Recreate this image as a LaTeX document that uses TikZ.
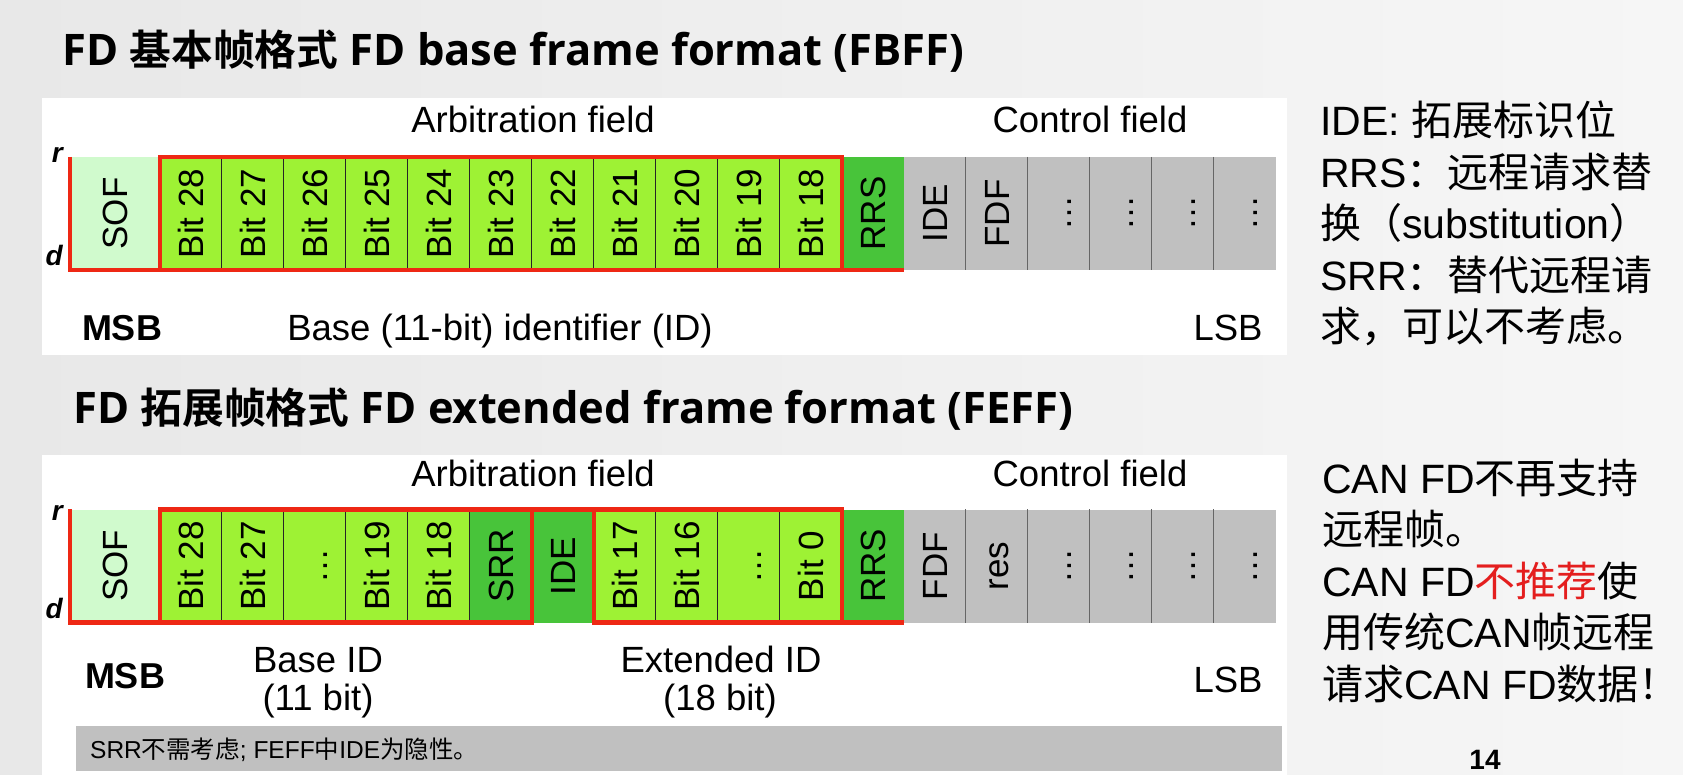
\documentclass[tikz,border=0pt]{standalone}
\usepackage{fontspec}
\setmainfont{Liberation Sans}
\newfontfamily\cjk{Noto Sans CJK SC}[BoldFont={Noto Sans CJK SC Bold}]
\newfontfamily\cjkhead{Noto Sans CJK SC}[Scale=0.96,BoldFont={Noto Sans CJK SC Bold}]
\newfontfamily\headfont{Open Sans}
\newcommand{\zhtext}[1]{{\cjk #1}}
\newcommand{\zhhead}[1]{{\cjkhead #1}}
\usepackage{xcolor}
\usepackage{tikz}
\definecolor{bgleft}{RGB}{232,232,232}
\definecolor{bgright}{RGB}{246,246,246}
\definecolor{sofgreen}{RGB}{208,250,205}
\definecolor{bitgreen}{RGB}{158,242,52}
\definecolor{darkgreen}{RGB}{72,196,58}
\definecolor{ctrlgray}{RGB}{192,192,192}
\definecolor{signalred}{RGB}{238,40,20}
\definecolor{notered}{RGB}{228,30,30}

\begin{document}
\begin{tikzpicture}[x=1pt, y=-1pt,
  cell/.style={minimum width=62pt, minimum height=113pt, inner sep=0pt, font=\fontsize{35}{40}\selectfont},
  sofcell/.style={cell, minimum width=90pt, fill=sofgreen},
  bitcell/.style={cell, fill=bitgreen},
  flagcell/.style={cell, fill=darkgreen},
  ctrlcell/.style={cell, fill=ctrlgray},
  sep/.style={line width=1.2pt, black!85},
  ctrlsep/.style={line width=1.2pt, black!60},
  level/.style={line width=4.5pt, signalred, line join=miter},
  lbl/.style={anchor=base, inner sep=0pt, font=\fontsize{36.5}{42}\selectfont},
  boldlbl/.style={lbl, font=\fontsize{36}{42}\selectfont\bfseries},
  levlbl/.style={anchor=base east, inner sep=0pt, font=\fontsize{28}{30}\selectfont\bfseries\itshape},
  title/.style={anchor=base west, inner sep=0pt, font=\fontsize{43.5}{50}\selectfont\headfont\bfseries},
  note/.style={anchor=base west, inner sep=0pt, font=\fontsize{41}{48}\selectfont}]
  \shade[left color=bgleft, right color=bgright] (0,0) rectangle (1683,775);
  \useasboundingbox (0,0) rectangle (1683,775);
  \fill[white] (42,98) rectangle (1287,355);
  \fill[white] (42,455) rectangle (1287,775);

  \node[title] (fbff) at (62,66) {FD \zhhead{基本帧格式} FD base frame format (FBFF)};
  \node[title] (feff) at (73,423) {FD \zhhead{拓展帧格式} FD extended frame format (FEFF)};

  \node[sofcell] (tsof) at (115,213.5) {\rotatebox{90}{\vphantom{B}SOF}};
  \foreach \lab/\sty [count=\i] in {Bit 28/bitcell, Bit 27/bitcell, Bit 26/bitcell, Bit 25/bitcell,
      Bit 24/bitcell, Bit 23/bitcell, Bit 22/bitcell, Bit 21/bitcell, Bit 20/bitcell, Bit 19/bitcell,
      Bit 18/bitcell, RRS/flagcell, IDE/ctrlcell, FDF/ctrlcell, \ldots/ctrlcell, \ldots/ctrlcell,
      \ldots/ctrlcell, \ldots/ctrlcell}
    {\node[\sty] (t\i) at ({129+62*\i},213.5) {\rotatebox{90}{\vphantom{B}\lab}};}
  \foreach \i in {2,...,11} {\draw[sep] (t\i.north west) -- (t\i.south west);}
  \foreach \i in {14,...,18} {\draw[ctrlsep] (t\i.north west) -- (t\i.south west);}
  \draw[level] (tsof.north west) -- (tsof.south west) -- (tsof.south east);
  \draw[level] (t1.north west) rectangle (t11.south east);
  \draw[level] (t12.south west) -- (t12.south east);

  \node[levlbl] (rtop) at (63,163) {r};
  \node[levlbl] (dtop) at (63,266) {d};
  \node[lbl] (arbtop) at (533,133) {Arbitration field};
  \node[lbl] (ctrltop) at (1090,133) {Control field};
  \node[boldlbl] (msbtop) at (122,341) {MSB};
  \node[lbl] (idtop) at (500,341) {Base (11-bit) identifier (ID)};
  \node[lbl] (lsbtop) at (1228,341) {LSB};

  \node[sofcell] (bsof) at (115,566) {\rotatebox{90}{\vphantom{B}SOF}};
  \foreach \lab/\sty [count=\i] in {Bit 28/bitcell, Bit 27/bitcell, \ldots/bitcell, Bit 19/bitcell,
      Bit 18/bitcell, SRR/flagcell, IDE/flagcell, Bit 17/bitcell, Bit 16/bitcell, \ldots/bitcell,
      Bit 0/bitcell, RRS/flagcell, FDF/ctrlcell, res/ctrlcell, \ldots/ctrlcell, \ldots/ctrlcell,
      \ldots/ctrlcell, \ldots/ctrlcell}
    {\node[\sty] (b\i) at ({129+62*\i},566) {\rotatebox{90}{\vphantom{B}\lab}};}
  \foreach \i in {2,3,4,5,6,9,10,11} {\draw[sep] (b\i.north west) -- (b\i.south west);}
  \foreach \i in {14,...,18} {\draw[ctrlsep] (b\i.north west) -- (b\i.south west);}
  \draw[level] (bsof.north west) -- (bsof.south west) -- (bsof.south east);
  \draw[level] (b1.north west) rectangle (b6.south east);
  \draw[level] (b7.north west) -- (b7.north east);
  \draw[level] (b8.north west) rectangle (b11.south east);
  \draw[level] (b12.south west) -- (b12.south east);

  \node[levlbl] (rbot) at (63,520) {r};
  \node[levlbl] (dbot) at (63,618) {d};
  \node[lbl] (arbbot) at (533,486) {Arbitration field};
  \node[lbl] (ctrlbot) at (1090,486) {Control field};
  \node[boldlbl] (msbbot) at (125,688) {MSB};
  \node[lbl] (baseid) at (318,672) {Base ID};
  \node[lbl] (basebits) at (318,710) {(11 bit)};
  \node[lbl] (extid) at (721,672) {Extended ID};
  \node[lbl] (extbits) at (720,710) {(18 bit)};
  \node[lbl] (lsbbot) at (1228,692) {LSB};

  \fill[ctrlgray] (76,726) rectangle (1282,771);
  \node[anchor=base west, inner sep=0pt, font=\fontsize{24.5}{28}\selectfont] (srrnote) at (90,758)
    {SRR\zhtext{不需考虑}; FEFF\zhtext{中}IDE\zhtext{为隐性。}};

  \foreach \txt [count=\k] in {{IDE: \zhtext{拓展标识位}}, {RRS\zhtext{：远程请求替}},
      {\zhtext{换（}substitution\zhtext{）}}, {SRR\zhtext{：替代远程请}}, {\zhtext{求，可以不考虑。}}}
    {\node[note] (defn\k) at (1320,{136+51.4*(\k-1)}) {\txt};}
  \foreach \txt [count=\k] in {{CAN FD\zhtext{不再支持}}, {\zhtext{远程帧。}},
      {CAN FD\zhtext{\textcolor{notered}{不推荐}使}}, {\zhtext{用传统}CAN\zhtext{帧远程}},
      {\zhtext{请求}CAN FD\zhtext{数据！}}}
    {\node[note] (fdnote\k) at (1322,{493+51.5*(\k-1)}) {\txt};}

  \node[anchor=base, inner sep=0pt, font=\fontsize{28}{30}\selectfont\bfseries] (pagenum) at (1485,769) {14};
\end{tikzpicture}
\end{document}
